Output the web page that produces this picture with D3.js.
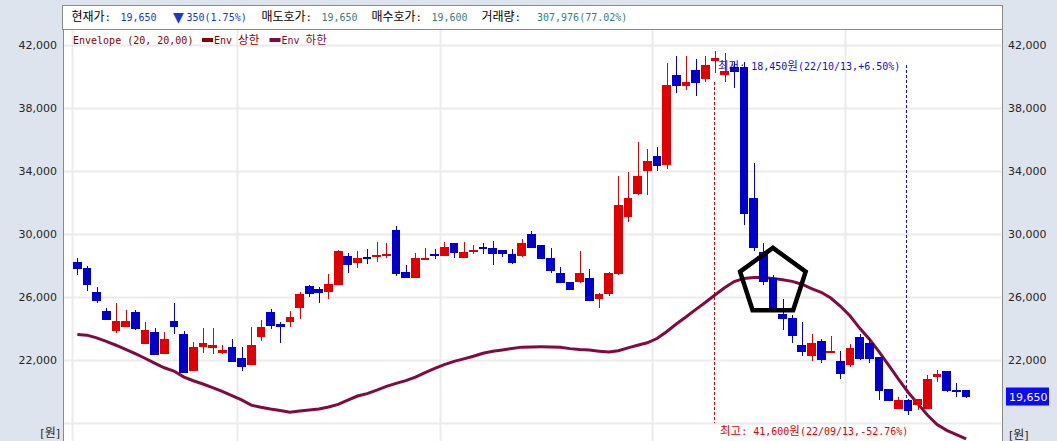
<!DOCTYPE html>
<html><head><meta charset="utf-8">
<script src="https://cdn.jsdelivr.net/npm/d3@7"></script>
<style>
html,body{margin:0;padding:0;background:#dde4ed;}
svg{display:block;}
text{white-space:pre;}
</style></head><body>
<svg id="c" width="1057" height="441"></svg>
<script>
// ---------------- data ----------------
const dates = [
"2022-06-08","2022-06-09","2022-06-10","2022-06-13","2022-06-14","2022-06-15","2022-06-16","2022-06-17","2022-06-20","2022-06-21",
"2022-06-22","2022-06-23","2022-06-24","2022-06-27","2022-06-28","2022-06-29","2022-06-30",
"2022-07-01","2022-07-04","2022-07-05","2022-07-06","2022-07-07","2022-07-08","2022-07-11","2022-07-12","2022-07-13","2022-07-14",
"2022-07-15","2022-07-18","2022-07-19","2022-07-20","2022-07-21","2022-07-22","2022-07-25","2022-07-26","2022-07-27","2022-07-28","2022-07-29",
"2022-08-01","2022-08-02","2022-08-03","2022-08-04","2022-08-05","2022-08-08","2022-08-09","2022-08-10","2022-08-11","2022-08-12",
"2022-08-16","2022-08-17","2022-08-18","2022-08-19","2022-08-22","2022-08-23","2022-08-24","2022-08-25","2022-08-26","2022-08-29","2022-08-30","2022-08-31",
"2022-09-01","2022-09-02","2022-09-05","2022-09-06","2022-09-07","2022-09-08","2022-09-13","2022-09-14","2022-09-15","2022-09-16",
"2022-09-19","2022-09-20","2022-09-21","2022-09-22","2022-09-23","2022-09-26","2022-09-27","2022-09-28","2022-09-29","2022-09-30",
"2022-10-04","2022-10-05","2022-10-06","2022-10-07","2022-10-11","2022-10-12","2022-10-13","2022-10-14","2022-10-17","2022-10-18",
"2022-10-19","2022-10-20","2022-10-21"];

const openP = [28200,27800,26300,25050,23800,24050,25000,23000,23750,22350,
  24450,23650,21300,22800,22750,22400,22800,22100,21650,23450,
  25000,24250,24350,25300,26650,26450,26300,26750,28600,28150,
  28500,28500,28600,30250,27550,27200,28400,28700,28600,29400,
  28450,28850,29150,29050,28950,28700,28600,29950,29250,28450,
  27500,26950,26950,27150,25850,26150,27400,31050,32500,34000,
  34950,34350,40050,39350,40350,39800,40950,40050,40600,40550,
  32250,28850,27150,24900,24650,22900,22200,23200,22400,21900,
  21650,23400,23050,22150,20100,18850,19400,19100,18850,20900,
  21250,20050,20050];
const highP = [28450,27950,26600,25300,25600,25150,25150,24350,24000,23750,
  25600,23800,23100,24000,24000,22950,23300,22800,24050,24500,
  25200,24350,25050,26300,26700,26600,27400,28950,28750,28900,
  29000,29450,29400,30450,28000,28750,29050,29000,29450,29400,
  29450,29300,29400,29500,28950,29000,29650,30150,29250,29050,
  27850,26950,28900,27750,26200,27550,33650,33900,35800,35350,
  35500,40800,41300,41250,41050,41250,41600,41450,40900,40900,
  34450,29400,27350,25850,24850,24400,23600,23300,23500,22550,
  23000,23600,23350,22150,20100,19650,19500,19500,21000,21350,
  21250,20500,20050];
const lowP = [27350,26350,25600,24500,23700,24050,23900,23000,22300,22350,
  23650,21150,21300,22400,22350,22350,21850,21300,21650,23200,
  23950,23050,24050,24600,26000,25600,25850,26700,27500,27800,
  28050,28200,28450,27300,27200,27200,28400,28400,28600,28450,
  28450,28700,28700,28000,28500,28050,28500,29100,28400,27500,
  26850,26400,26850,25700,25300,26050,27350,30750,32450,32450,
  34000,34100,38950,39100,38700,39650,40200,39650,39250,30550,
  28900,26750,25150,23900,23050,22200,21900,21750,22400,20750,
  21550,22000,21800,19400,19350,18850,18450,18800,18850,20550,
  19950,19650,19550];
const closeP = [27750,26700,25700,24500,24450,24450,23950,23850,22300,23300,
  24050,21150,22800,23050,22950,22600,21850,21550,22950,24050,
  24150,24050,24700,26150,26150,26250,26800,28900,28000,28450,
  28400,28650,28700,27400,27200,28450,28450,28600,29150,28750,
  28800,28950,29050,28700,28700,28150,29400,29100,28400,27650,
  26850,26400,27500,25700,26150,27500,31800,32250,33650,34600,
  34300,39400,39350,39600,39550,40700,41150,40300,40250,31250,
  29050,26950,25250,24550,23500,22450,23050,21950,22550,21050,
  22750,22050,22050,20000,19350,19400,18700,19500,20750,21050,
  20000,20000,19650];
// Envelope lower band
const envLower = [23590,23545,23370,23150,22905,22640,22370,22080,21770,21475,
  21270,20895,20650,20445,20220,19980,19705,19440,19100,18970,
  18860,18765,18650,18725,18790,18860,18980,19150,19420,19680,
  19830,20050,20290,20480,20660,20880,21170,21440,21680,21880,
  22040,22205,22400,22520,22610,22700,22785,22800,22806,22800,
  22780,22690,22635,22600,22530,22470,22560,22740,22900,23060,
  23330,23760,24250,24700,25170,25620,26095,26550,26950,27150,
  27212,27200,27150,27060,26960,26780,26500,26270,25900,25380,
  24760,23980,23290,22480,21620,20750,19920,19200,18480,17870,
  17500,17230,16960];

const yTickValues = [22000, 26000, 30000, 34000, 38000, 42000];
const yGridValues = [18000, 22000, 26000, 30000, 34000, 38000, 42000];
const monthGridDates = ["2022-06-08","2022-07-01","2022-08-01","2022-09-01","2022-10-04"];

const headerItems = [
  {text:"현재가:", color:"#000000"},
  {text:"19,650", color:"#1b35d6"},
  {text:"▼", color:"#1b35d6"},
  {text:"350(1.75%)", color:"#1b35d6"},
  {text:"매도호가:", color:"#000000"},
  {text:"19,650", color:"#3a7d7d"},
  {text:"매수호가:", color:"#000000"},
  {text:"19,600", color:"#3a7d7d"},
  {text:"거래량:", color:"#000000"},
  {text:"307,976(77.02%)", color:"#3a7d7d"}
];
const headerX = [71.5, 120.5, 173, 186.5, 261.5, 321.5, 371.5, 431.5, 481.5, 537];

const legendTitle = "Envelope (20, 20,00)";
const legendSeries = [{name:"Env 상한", color:"#8b0000"}, {name:"Env 하한", color:"#7e0b42"}];

const currentPrice = 19650;
const highMark = {date:"2022-09-13", price:41600, label:"최고: 41,600원(22/09/13,-52.76%)"};
const lowMark  = {date:"2022-10-13", price:18450, label:"최저: 18,450원(22/10/13,+6.50%)"};
const pentagonMark = {date:"2022-09-21", price:26900, radius:34.5};

// ---------------- layout ----------------
const W = 1057, H = 441;
const P = {left:63, right:1002, top:29, bottom:441};
const svg = d3.select("#c");

const x = d3.scaleBand().domain(dates).range([72.5, 970.9]).paddingInner(0.1).paddingOuter(0.05);
const y = d3.scaleLinear().domain([18000, 42000]).range([422.5, 44.5]);
const cx = d => x(d) + x.bandwidth()/2;
const step = x.step();

const KO = /([\u3131-\uD79D]+)/;
function mixedText(g, str, px, py, color, latinSize, koSize, anchor) {
  const t = g.append("text").attr("x", px).attr("y", py).attr("fill", color)
    .attr("text-anchor", anchor || "start");
  str.split(KO).filter(s => s.length).forEach(s => {
    const ko = /[\u3131-\uD79D]/.test(s);
    t.append("tspan").text(s)
      .attr("font-family", ko ? "'Noto Sans CJK KR'" : "'DejaVu Sans Mono','Noto Sans CJK KR'")
      .attr("font-size", ko ? koSize : latinSize);
  });
  return t;
}

// background
svg.append("rect").attr("width", W).attr("height", H).attr("fill", "#dde4ed");
svg.append("rect").attr("x", P.left).attr("y", P.top).attr("width", P.right - P.left).attr("height", P.bottom - P.top).attr("fill", "#ffffff");

// clip
svg.append("clipPath").attr("id", "clip").append("rect")
  .attr("x", P.left + 1).attr("y", P.top + 1).attr("width", P.right - P.left - 2).attr("height", P.bottom - P.top);

const plot = svg.append("g").attr("clip-path", "url(#clip)");

// grid
plot.selectAll(".hg").data(yGridValues).join("line")
  .attr("x1", P.left).attr("x2", P.right)
  .attr("y1", d => Math.round(y(d)) + 0.5).attr("y2", d => Math.round(y(d)) + 0.5)
  .attr("stroke", "#ebebeb").attr("stroke-width", 2);
plot.selectAll(".vg").data(monthGridDates).join("line")
  .attr("x1", d => Math.round(x(d) - step * 0.05) + 0.5).attr("x2", d => Math.round(x(d) - step * 0.05) + 0.5)
  .attr("y1", P.top).attr("y2", P.bottom)
  .attr("stroke", "#ebebeb").attr("stroke-width", 2);

// annotation labels (under the candles)
const iHigh = dates.indexOf(highMark.date), iLow = dates.indexOf(lowMark.date);
plot.append("line")
  .attr("x1", Math.round(cx(highMark.date)) - 0.5).attr("x2", Math.round(cx(highMark.date)) - 0.5)
  .attr("y1", 82).attr("y2", 423)
  .attr("stroke", "#e00000").attr("stroke-width", 1).attr("stroke-dasharray", "3,2");
mixedText(plot, highMark.label, 720, 435, "#e00000", 10, 11.5);
plot.append("line")
  .attr("x1", Math.round(cx(lowMark.date)) - 1.5).attr("x2", Math.round(cx(lowMark.date)) - 1.5)
  .attr("y1", 65).attr("y2", y(lowMark.price) - 14)
  .attr("stroke", "#1010d0").attr("stroke-width", 1).attr("stroke-dasharray", "3,2");
mixedText(plot, lowMark.label, 718, 69.5, "#1010d0", 10, 11.5);

// envelope lower line
plot.append("path").datum(envLower)
  .attr("fill", "none").attr("stroke", "#7e0b42").attr("stroke-width", 3)
  .attr("d", d3.line().x((d, i) => cx(dates[i])).y(d => y(d)));

// candles
const candles = dates.map((d, i) => ({d, o:openP[i], h:highP[i], l:lowP[i], c:closeP[i]}));
const cg = plot.append("g").attr("shape-rendering", "crispEdges");
cg.selectAll(".wick").data(candles).join("line")
  .attr("x1", d => Math.round(cx(d.d)) + 0.5).attr("x2", d => Math.round(cx(d.d)) + 0.5)
  .attr("y1", d => y(d.h)).attr("y2", d => y(d.l))
  .attr("stroke", d => d.c >= d.o ? "#e00000" : "#0000cc").attr("stroke-width", 1);
cg.selectAll(".body").data(candles).join("rect")
  .attr("x", d => x(d.d)).attr("width", x.bandwidth())
  .attr("y", d => y(Math.max(d.o, d.c)))
  .attr("height", d => Math.max(2, y(Math.min(d.o, d.c)) - y(Math.max(d.o, d.c))))
  .attr("fill", d => d.c >= d.o ? "#e00000" : "#0000cc");

// pentagon drawing
const pcx = cx(pentagonMark.date), pcy = y(pentagonMark.price), R = pentagonMark.radius;
const pts = d3.range(5).map(k => {
  const a = (-90 + k * 72) * Math.PI / 180;
  return [pcx + R * Math.cos(a), pcy + R * Math.sin(a)];
});
plot.append("path").attr("d", d3.line()(pts) + "Z")
  .attr("fill", "none").attr("stroke", "#000").attr("stroke-width", 4.5).attr("stroke-linejoin", "miter");

// legend
mixedText(svg, legendTitle, 73, 44, "#8b0000", 10, 11.5);
const legX = [202, 269.5];
legendSeries.forEach((s, i) => {
  svg.append("rect").attr("x", legX[i]).attr("y", 38).attr("width", 11).attr("height", 4).attr("fill", s.color);
  mixedText(svg, s.name, legX[i] + 12, 44, s.color, 10, 11.5);
});

// borders
svg.append("line").attr("x1", P.left + 0.5).attr("x2", P.left + 0.5).attr("y1", P.top).attr("y2", H).attr("stroke", "#8a8a8a");
svg.append("line").attr("x1", P.right + 0.5).attr("x2", P.right + 0.5).attr("y1", P.top).attr("y2", H).attr("stroke", "#8a8a8a");

// header
svg.append("rect").attr("x", 62.5).attr("y", 5.5).attr("width", P.right - 62).attr("height", 24)
  .attr("fill", "#ffffff").attr("stroke", "#8a8a8a");
headerItems.forEach((it, i) => {
  if (it.text === "▼") {
    svg.append("text").attr("x", headerX[i]).attr("y", 22).attr("fill", it.color)
      .attr("font-family", "'DejaVu Sans'").attr("font-size", 14).text(it.text);
  } else {
    mixedText(svg, it.text, headerX[i], 21, it.color, 10, 12);
  }
});

// y axis labels
const fmt = d3.format(",");
svg.selectAll(".yl").data(yTickValues).join("text")
  .attr("x", 57).attr("y", d => y(d) + 4).attr("text-anchor", "end")
  .attr("font-family", "'DejaVu Sans'").attr("font-size", 11).attr("fill", "#262626").text(fmt);
svg.selectAll(".yr").data(yTickValues).join("text")
  .attr("x", 1008).attr("y", d => y(d) + 4)
  .attr("font-family", "'DejaVu Sans'").attr("font-size", 11).attr("fill", "#262626").text(fmt);
mixedText(svg, "[원]", 60, 437, "#262626", 11, 12, "end").selectAll("tspan").attr("font-family", (d, i, n) => /[\u3131-\uD79D]/.test(n[i].textContent) ? "'Noto Sans CJK KR'" : "'DejaVu Sans'");
mixedText(svg, "[원]", 1009, 439, "#262626", 11, 12).selectAll("tspan").attr("font-family", (d, i, n) => /[\u3131-\uD79D]/.test(n[i].textContent) ? "'Noto Sans CJK KR'" : "'DejaVu Sans'");

// current price tag
svg.append("rect").attr("x", 1006).attr("y", y(currentPrice) - 9).attr("width", 43).attr("height", 18).attr("fill", "#0a0aff");
svg.append("text").attr("x", 1009).attr("y", y(currentPrice) + 4.5)
  .attr("font-family", "'DejaVu Sans'").attr("font-size", 11).attr("fill", "#ffffff").text(fmt(currentPrice));
</script></body></html>
